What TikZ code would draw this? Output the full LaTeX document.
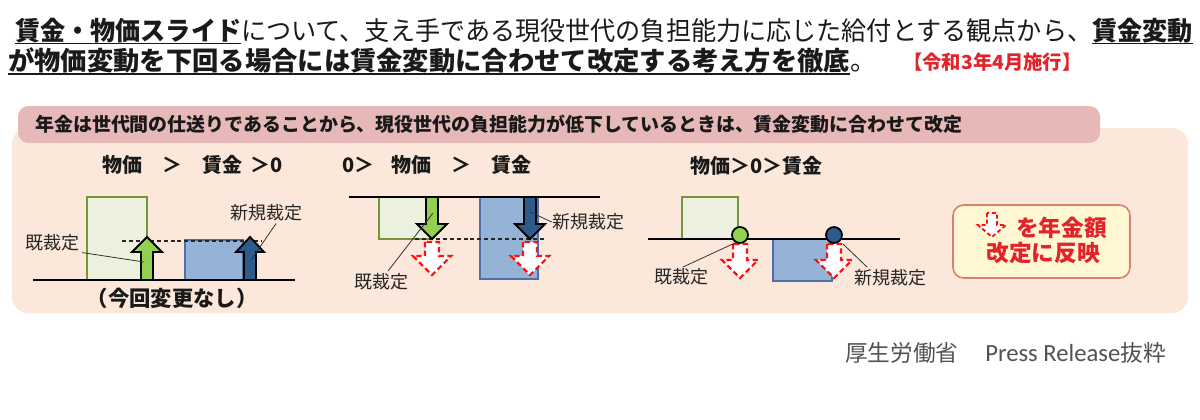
\documentclass[tikz,border=0pt]{standalone}
\usepackage{graphicx}
\usepackage{fontspec}
\setmainfont{Noto Sans CJK JP}
\newfontfamily\latinf{Carlito}
\definecolor{peach}{HTML}{FCE8DA}
\definecolor{bandc}{HTML}{E6B9B8}
\definecolor{glight}{HTML}{EBF1DE}
\definecolor{gborder}{HTML}{77933C}
\definecolor{bboxc}{HTML}{95B3D7}
\definecolor{bborder}{HTML}{4F6FA8}
\definecolor{garrow}{HTML}{92D050}
\definecolor{barrow}{HTML}{2E5C8A}
\definecolor{rd}{HTML}{FF1010}
\definecolor{legfill}{HTML}{FFF8D2}
\definecolor{legborder}{HTML}{D98070}
\definecolor{legtext}{HTML}{E4222A}
\definecolor{titletext}{HTML}{1A1A1A}
\newcommand\ulb[1]{\setbox0\hbox{\bfseries #1}\rlap{\rule[-3.2pt]{\wd0}{1.3pt}}\box0}
% style, cx, start y, head base y, tip y, shaft half, head half
\newcommand\blkarrow[7]{\draw[#1] ({#2-#6},#3) -- ({#2-#6},#4) -- ({#2-#7},#4) -- (#2,#5) -- ({#2+#7},#4) -- ({#2+#6},#4) -- ({#2+#6},#3) -- cycle;}
\begin{document}
\begin{tikzpicture}[x=0.75pt,y=-0.75pt,
  basel/.style={line width=2.2pt, draw=black},
  gbox/.style={fill=glight, draw=gborder, line width=1.6pt},
  bboxs/.style={fill=bboxc, draw=bborder, line width=1pt},
  garr/.style={fill=garrow, draw=black, line width=1.4pt},
  barr/.style={fill=barrow, draw=black, line width=1.4pt},
  rarr/.style={fill=white, draw=rd, line width=1.6pt, dash pattern=on 4pt off 2.5pt},
  lead/.style={draw=black!80, line width=0.6pt},
  lbl/.style={font=\fontsize{13.5pt}{14pt}\selectfont, text=black!85, inner sep=0pt},
  sub/.style={font=\bfseries\fontsize{15pt}{16pt}\selectfont, text=black!90, inner sep=0pt, anchor=west},
  dline/.style={draw=black!85, line width=0.9pt, dash pattern=on 3pt off 2.2pt},
  dot/.style={draw=black, line width=1.3pt}
]
\useasboundingbox (0,0) rectangle (1200,419);
\fill[white] (0,0) rectangle (1200,419);

% title
\node[anchor=west, inner sep=0pt, text=titletext, font=\fontsize{19.5pt}{20pt}\selectfont] (t1) at (15,31)
  {\scalebox{0.966}[1]{\ulb{賃金・物価スライド}について、支え手である現役世代の負担能力に応じた給付とする観点から、\ulb{賃金変動}}};
\node[anchor=west, inner sep=0pt, text=titletext, font=\fontsize{19.5pt}{20pt}\selectfont] (t2) at (8,61)
  {\scalebox{1.012}[1]{\ulb{が物価変動を下回る場合には賃金変動に合わせて改定する考え方を徹底}。}};
\node[anchor=west, inner sep=0pt, text=legtext, font=\bfseries\fontsize{14.5pt}{15pt}\selectfont] (date) at (903,62) {【令和3年4月施行】};

% panels
\fill[peach, rounded corners=12] (12,128) rectangle (1188,313);
\fill[bandc, rounded corners=8] (18,106) rectangle (1100,143);
\node[anchor=west, inner sep=0pt, text=black!90, font=\bfseries\fontsize{14.2pt}{15pt}\selectfont] (band) at (35,124)
  {年金は世代間の仕送りであることから、現役世代の負担能力が低下しているときは、賃金変動に合わせて改定};

% subtitles
\node[sub] (s1) at (102,165) {物価\hspace{1em}＞\hspace{1em}賃金\hspace{0.4em}＞0};
\node[sub] (s2) at (342,165) {0＞\hspace{0.85em}物価\hspace{1em}＞\hspace{1em}賃金};
\node[sub] (s3) at (690,166) {物価＞0＞賃金};

% diagram 1
\draw[gbox] (87,197) rectangle (147,280);
\draw[bboxs] (185,240) rectangle (243,280);
\draw[dline] (122,241) -- (262,241);
\blkarrow{garr}{147}{280}{252}{237}{6}{15}
\blkarrow{barr}{250}{280}{252}{237}{6}{14}
\draw[basel] (33,280) -- (295,280);
\node[lbl] (k1) at (53,243) {既裁定};
\node[lbl] (n1) at (266,213) {新規裁定};
\coordinate (k1t) at (144,262);
\coordinate (n1t) at (251,260);
\draw[lead] (k1.south east) ++(2,1) -- (k1t);
\draw[lead] (n1.south) ++(10,2) -- (n1t);
\node[inner sep=0pt, font=\bfseries\fontsize{16pt}{17pt}\selectfont, text=black!90] (nc) at (172,298) {（今回変更なし）};

% diagram 2
\draw[gbox] (379,197) rectangle (432,239);
\draw[bboxs] (480,197) rectangle (538,279);
\draw[dline] (415,239) -- (545,239);
\blkarrow{garr}{432}{197}{224}{239}{6}{15}
\blkarrow{barr}{530}{197}{224}{239}{6}{15}
\blkarrow{rarr}{432}{242}{256}{275}{7}{19}
\blkarrow{rarr}{530}{242}{256}{275}{7}{19}
\draw[basel] (349,197) -- (600,197);
\node[lbl] (k2) at (381,282) {既裁定};
\node[lbl] (n2) at (588,222) {新規裁定};
\coordinate (k2t) at (433,213);
\coordinate (n2t) at (530,212);
\draw[lead] (388,271) -- (k2t);
\draw[lead] (n2.west) -- (n2t);

% diagram 3
\draw[gbox] (682,197) rectangle (738,239);
\draw[bboxs] (773,239) rectangle (832,281);
\blkarrow{rarr}{740}{244}{260}{278}{7}{18}
\blkarrow{rarr}{834}{244}{260}{278}{7}{18}
\draw[basel] (648,239) -- (900,239);
\draw[dot, fill=garrow] (740,235) circle[radius=8];
\draw[dot, fill=barrow] (834,235) circle[radius=8];
\node[lbl] (k3) at (681,277) {既裁定};
\node[lbl] (n3) at (890,278) {新規裁定};
\coordinate (k3t) at (737,242);
\coordinate (n3t) at (843,244);
\draw[lead] (683,267) -- (k3t);
\draw[lead] (867,267) -- (n3t);

% legend
\draw[fill=legfill, draw=legborder, line width=1.2pt, rounded corners=8] (953,205) rectangle (1130,278);
\blkarrow{rarr, line width=1.4pt, dash pattern=on 3pt off 2pt}{992}{213}{225}{237}{5}{14}
\node[anchor=west, inner sep=0pt, text=legtext, font=\bfseries\fontsize{17pt}{18pt}\selectfont] (lg1) at (1016,228) {を年金額};
\node[inner sep=0pt, text=legtext, font=\bfseries\fontsize{17pt}{18pt}\selectfont] (lg2) at (1043,253) {改定に反映};

% source
\node[anchor=west, inner sep=0pt, text=black!68, font=\fontsize{17pt}{18pt}\selectfont] (src) at (845,353)
  {厚生労働省\hspace{20pt}{\latinf\fontsize{18.5pt}{19pt}\selectfont Press Release}抜粋};
\end{tikzpicture}
\end{document}
